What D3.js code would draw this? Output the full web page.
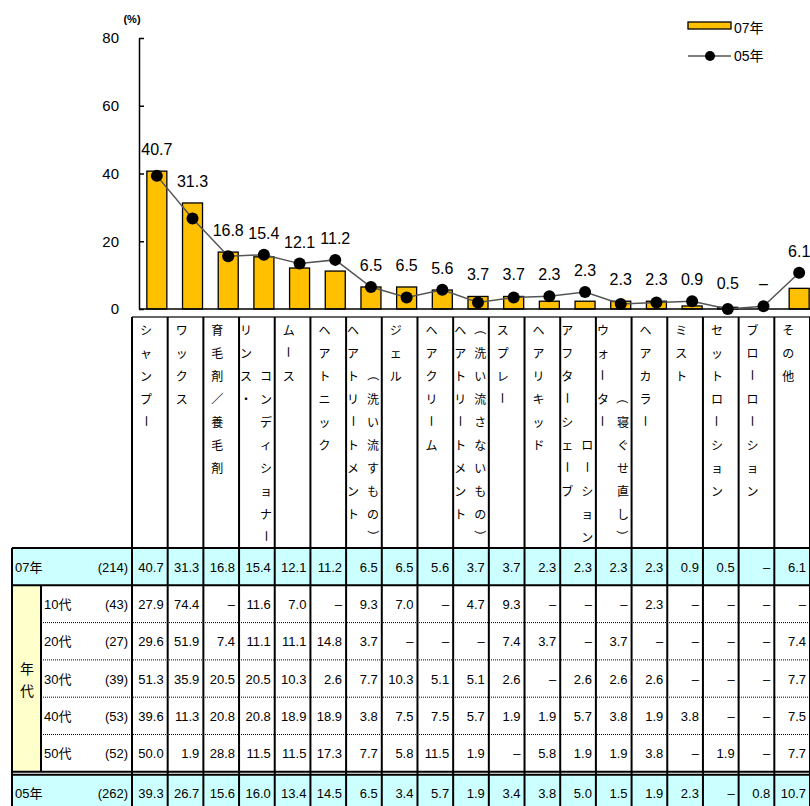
<!DOCTYPE html>
<html><head><meta charset="utf-8">
<script src="https://cdn.jsdelivr.net/npm/d3@7"></script>
<style>
body{margin:0;background:#fff;}
svg{display:block;font-family:"Liberation Sans","Noto Sans CJK JP",sans-serif;}
</style>
</head><body><svg id="c" width="810" height="806"></svg>
<script>
const categories = ["シャンプー","ワックス","育毛剤／養毛剤","リンス・\nコンディショナー","ムース","ヘアトニック","ヘアトリートメント\n（洗い流すもの）","ジェル","ヘアクリーム","ヘアトリートメント\n（洗い流さないもの）","スプレー","ヘアリキッド","アフターシェーブ\nローション","ウォーター\n（寝ぐせ直し）","ヘアカラー","ミスト","セットローション","ブローローション","その他"];
const values07 = [40.7,31.3,16.8,15.4,12.1,11.2,6.5,6.5,5.6,3.7,3.7,2.3,2.3,2.3,2.3,0.9,0.5,null,6.1];
const values05 = [39.3,26.7,15.6,16.0,13.4,14.5,6.5,3.4,5.7,1.9,3.4,3.8,5.0,1.5,1.9,2.3,null,0.8,10.7];
const ageGroups = ["10代","20代","30代","40代","50代"];
const ageCounts = [43,27,39,53,52];
const age10 = [27.9,74.4,null,11.6,7.0,null,9.3,7.0,null,4.7,9.3,null,null,null,2.3,null,null,null,null];
const age20 = [29.6,51.9,7.4,11.1,11.1,14.8,3.7,null,null,null,7.4,3.7,null,3.7,null,null,null,null,7.4];
const age30 = [51.3,35.9,20.5,20.5,10.3,2.6,7.7,10.3,5.1,5.1,2.6,null,2.6,2.6,2.6,null,null,null,7.7];
const age40 = [39.6,11.3,20.8,20.8,18.9,18.9,3.8,7.5,7.5,5.7,1.9,1.9,5.7,3.8,1.9,3.8,null,null,7.5];
const age50 = [50.0,1.9,28.8,11.5,11.5,17.3,7.7,5.8,11.5,1.9,null,5.8,1.9,1.9,3.8,null,1.9,null,7.7];
const seriesNames = ["07年","05年"];
const seriesCounts = [214,262];
const yTicks = [0,20,40,60,80];
const unitLabel = "(%)";
const groupLabel = "年代";

const svg = d3.select("#c");
const n = categories.length;
const fmt = v => v == null ? "–" : d3.format(".1f")(v);

const BAR = "#FFC000", CYAN = "#CCFFFF", YEL = "#FFFFCC";
const y = d3.scaleLinear().domain([0,80]).range([309,38]);
const step = (810-132)/n;
const xc = d3.scaleBand().domain(d3.range(n)).range([139, 139+n*step]);
const xt = d3.scaleBand().domain(d3.range(n)).range([132, 810]);
const cx = i => xc(i) + xc.bandwidth()/2;

// axis
const ax = svg.append("g").attr("transform","translate(139,0)")
  .call(d3.axisLeft(y).tickValues(yTicks).tickSize(-5).tickSizeOuter(0).tickPadding(20));
ax.select(".domain").attr("stroke","#000").attr("stroke-width",1.5);
ax.selectAll(".tick line").attr("stroke","#000").attr("stroke-width",1.5);
ax.selectAll(".tick text").attr("font-size",15).attr("fill","#000")
  .attr("font-family","Liberation Sans, sans-serif");
svg.append("text").attr("x",132).attr("y",23).attr("text-anchor","middle")
  .attr("font-size",11).attr("font-weight","bold").text(unitLabel);

// bars
svg.append("g").selectAll("rect").data(values07.map((v,i)=>({v,i})).filter(d=>d.v!=null))
  .join("rect")
  .attr("x",d=>cx(d.i)-10).attr("width",20)
  .attr("y",d=>y(d.v)).attr("height",d=>y(0)-y(d.v))
  .attr("fill",BAR).attr("stroke","#000").attr("stroke-width",1.3);

// baseline
svg.append("line").attr("x1",139).attr("x2",810).attr("y1",y(0)).attr("y2",y(0))
  .attr("stroke","#000").attr("stroke-width",1.5);

// line 05
const pts = values05.map((v,i)=>({x:cx(i), y:y(v==null?0:v)}));
svg.append("path").datum(pts)
  .attr("d",d3.line().x(d=>d.x).y(d=>d.y))
  .attr("fill","none").attr("stroke","#555").attr("stroke-width",1.5);
svg.append("g").selectAll("circle").data(pts).join("circle")
  .attr("cx",d=>d.x).attr("cy",d=>d.y).attr("r",6).attr("fill","#000");

// value labels
svg.append("g").selectAll("text").data(values07.map((v,i)=>({v,i})))
  .join("text")
  .attr("x",d=>cx(d.i)).attr("text-anchor","middle").attr("font-size",16)
  .attr("y",d=>{
    const m = Math.max(d.v||0, values05[d.i]||0);
    return Math.min(y(m)-22, 283) + 6;
  })
  .text(d=>fmt(d.v));

// legend
svg.append("rect").attr("x",688).attr("y",22).attr("width",43).attr("height",7)
  .attr("fill",BAR).attr("stroke","#000").attr("stroke-width",1.3);
svg.append("text").attr("x",734).attr("y",33).attr("font-size",14).text(seriesNames[0]);
svg.append("line").attr("x1",688).attr("x2",731).attr("y1",56).attr("y2",56)
  .attr("stroke","#555").attr("stroke-width",1.5);
svg.append("circle").attr("cx",710).attr("cy",56).attr("r",5).attr("fill","#000");
svg.append("text").attr("x",734).attr("y",61).attr("font-size",14).text(seriesNames[1]);

// header with vertical labels
const hTop = 317, tTop = 548;
const hdr = svg.append("g");
hdr.append("line").attr("x1",132).attr("x2",810).attr("y1",hTop).attr("y2",hTop)
  .attr("stroke","#333").attr("stroke-width",1.5);
const rowC = k => 329 + k*23;
const rotChars = "ー（）";
function vtext(str, x, startRow){
  Array.from(str).forEach((ch,k)=>{
    const yy = rowC(startRow+k);
    const t = hdr.append("text").attr("x",x).attr("y",yy)
      .attr("text-anchor","middle").attr("dominant-baseline","central")
      .attr("font-size",12).attr("font-family","Noto Sans CJK JP, sans-serif").text(ch);
    if (rotChars.includes(ch)) t.attr("transform",`rotate(90,${x},${yy})`);
  });
}
categories.forEach((lab,i)=>{
  const parts = lab.split("\n");
  const left = xt(i);
  if (parts.length===1) vtext(parts[0], left+14, 0);
  else {
    vtext(parts[0], left+7, 0);
    vtext(parts[1], left+27, 10-Array.from(parts[1]).length);
  }
});

// table
const rowH = 37.3;
const tb = svg.append("g");
const r07 = [tTop, tTop+rowH];
const ageTop = tTop+rowH, ageBot = ageTop + 5*rowH;
const r05 = [ageBot+3, ageBot+3+rowH];
tb.append("rect").attr("x",12).attr("y",r07[0]).attr("width",798).attr("height",rowH).attr("fill",CYAN);
tb.append("rect").attr("x",12).attr("y",r05[0]).attr("width",798).attr("height",rowH).attr("fill",CYAN);
tb.append("rect").attr("x",12).attr("y",ageTop).attr("width",29).attr("height",5*rowH).attr("fill",YEL);

// dotted separators
for (let k=1;k<5;k++){
  tb.append("line").attr("x1",41).attr("x2",810).attr("y1",ageTop+k*rowH).attr("y2",ageTop+k*rowH)
    .attr("stroke","#000").attr("stroke-width",1).attr("stroke-dasharray","1,1");
}
// solid lines
[tTop, ageTop, ageBot, r05[0]].forEach(yy=>{
  tb.append("line").attr("x1",12).attr("x2",810).attr("y1",yy).attr("y2",yy)
    .attr("stroke","#000").attr("stroke-width",2);
});
tb.append("line").attr("x1",12).attr("x2",12).attr("y1",tTop).attr("y2",830).attr("stroke","#000").attr("stroke-width",2);
tb.append("line").attr("x1",41).attr("x2",41).attr("y1",ageTop).attr("y2",ageBot).attr("stroke","#000").attr("stroke-width",2);
d3.range(n+1).forEach(i=>{
  const xx = i<n ? xt(i) : 810;
  svg.append("line").attr("x1",xx).attr("x2",xx).attr("y1",hTop).attr("y2",830)
    .attr("stroke","#000").attr("stroke-width",2);
});

// row contents
const rows = [
  {label:seriesNames[0], count:seriesCounts[0], vals:values07, top:r07[0], x:15},
  ...[age10,age20,age30,age40,age50].map((vals,k)=>({label:ageGroups[k], count:ageCounts[k], vals, top:ageTop+k*rowH, x:44})),
  {label:seriesNames[1], count:seriesCounts[1], vals:values05, top:r05[0], x:15}
];
rows.forEach(r=>{
  const by = r.top + rowH/2 + 5;
  tb.append("text").attr("x",r.x).attr("y",by).attr("font-size",13).text(r.label);
  tb.append("text").attr("x",128).attr("y",by).attr("font-size",13).attr("text-anchor","end").text(`(${r.count})`);
  r.vals.forEach((v,i)=>{
    tb.append("text").attr("x",xt(i)+xt.bandwidth()-4).attr("y",by)
      .attr("font-size",13).attr("text-anchor","end").text(fmt(v));
  });
});
// 年代 vertical
Array.from(groupLabel).forEach((ch,k)=>{
  tb.append("text").attr("x",27).attr("y",(ageTop+ageBot)/2 - 11 + k*22)
    .attr("text-anchor","middle").attr("dominant-baseline","central")
    .attr("font-size",14).attr("font-family","Noto Sans CJK JP, sans-serif").text(ch);
});
</script>
</body></html>
